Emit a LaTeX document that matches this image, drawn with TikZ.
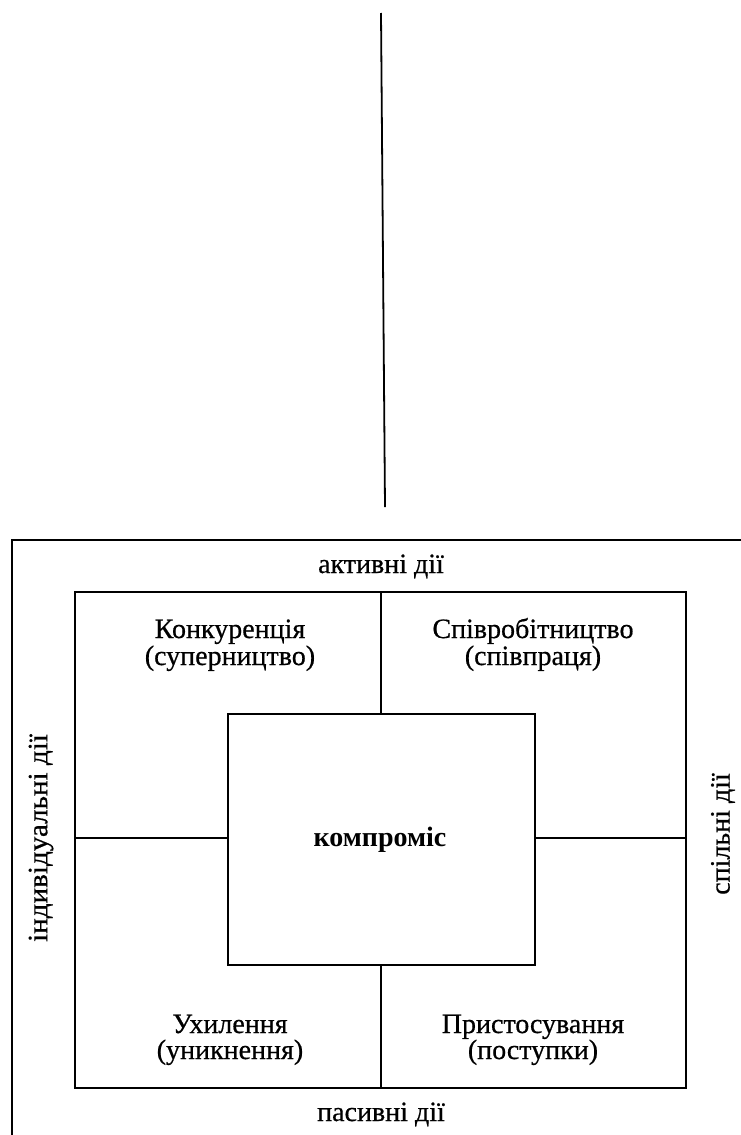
\documentclass[tikz,border=0pt]{standalone}
\usepackage{fontspec}
\setmainfont{Liberation Serif}[FakeBold=0.6]
\newfontfamily\boldface{Liberation Serif Bold}
\begin{document}
\begin{tikzpicture}[x=1pt,y=-1pt,
  frame/.style={line width=2.6pt},
  lbl/.style={font=\fontsize{28}{28}\selectfont, inner sep=0pt, anchor=base},
  boxstyle/.style={draw, line width=2.6pt, minimum width=307pt, minimum height=251pt, inner sep=0pt}]
\useasboundingbox[fill=white] (0,0) rectangle (741,1135);
% top vertical line
\coordinate (t1) at (381,13);
\coordinate (t2) at (385,507);
\draw[line width=1.8pt] (t1) -- (t2);
% outer frame (right and bottom sides lie beyond the picture)
\coordinate (o1) at (741,540);
\coordinate (o2) at (12,540);
\coordinate (o3) at (12,1135);
\draw[frame] (o1) -- (o2) -- (o3);
% inner grid
\coordinate (iNW) at (75,592);
\coordinate (iSE) at (686,1088);
\draw[frame] (iNW) rectangle (iSE);
\node[boxstyle] (c) at (381.5,839.5) {};
\node[lbl, font=\fontsize{28}{28}\boldface] (ct) at (380,846) {компроміс};
\coordinate (vt) at (381,592);
\coordinate (vb) at (381,1088);
\coordinate (hl) at (75,838);
\coordinate (hr) at (686,838);
\draw[frame] (vt) -- (c.north -| vt);
\draw[frame] (c.south -| vb) -- (vb);
\draw[frame] (hl) -- (c.west |- hl);
\draw[frame] (c.east |- hr) -- (hr);
% labels
\node[lbl] (akt) at (381,573) {активні дії};
\node[lbl] (pas) at (381,1121) {пасивні дії};
\node[lbl, rotate=90, anchor=center] (ind) at (41,838) {\scalebox{1.04}[1]{індивідуальні дії}};
\node[lbl, rotate=90, anchor=center] (sp) at (723,834) {спільні дії};
\node[lbl] (q1a) at (230,638) {Конкуренція};
\node[lbl] (q1b) at (230,665) {(суперництво)};
\node[lbl] (q2a) at (533,638) {Співробітництво};
\node[lbl] (q2b) at (533,665) {(співпраця)};
\node[lbl] (q3a) at (230,1033) {Ухилення};
\node[lbl] (q3b) at (230,1059) {(уникнення)};
\node[lbl] (q4a) at (533,1033) {Пристосування};
\node[lbl] (q4b) at (533,1059) {(поступки)};
\end{tikzpicture}
\end{document}
